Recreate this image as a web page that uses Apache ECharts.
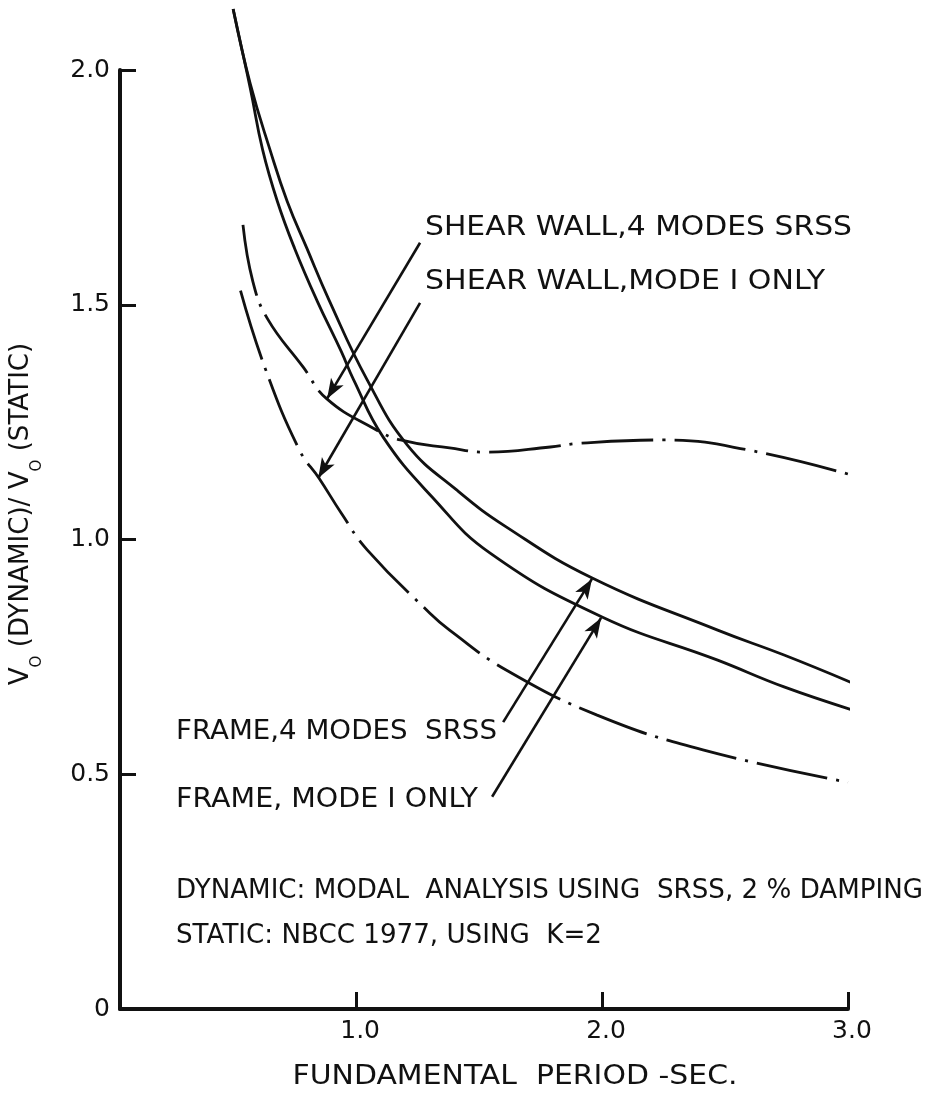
<!DOCTYPE html>
<html lang="en">
<head>
  <meta charset="UTF-8">
  <meta name="viewport" content="width=device-width, initial-scale=1.0">
  <title>Vo (dynamic) / Vo (static) vs fundamental period</title>
  <style>
    html, body {
      margin: 0;
      padding: 0;
      background: #fff;
    }
    #root {
      width: 932px;
      height: 1097px;
    }
  </style>
</head>

<body>
  <div id="root"></div>
</body>
<script src="https://cdn.jsdelivr.net/npm/echarts@6/dist/echarts.min.js"></script>
<script>
  // values: period in seconds, ratio Vo(dynamic)/Vo(static)
  const frameSrssT = [0.50, 0.57, 0.65, 0.72, 0.80, 0.89, 1.045, 1.21, 1.41, 1.61, 1.96, 2.47, 2.74, 3.02];
  const frameSrssV = [2.13, 1.97, 1.83, 1.72, 1.62, 1.51, 1.34, 1.20, 1.105, 1.027, 0.918, 0.807, 0.754, 0.694];

  const frameMode1T = [0.50, 0.57, 0.62, 0.68, 0.75, 0.84, 0.94, 0.99, 1.11, 1.31, 1.545, 2.00, 2.47, 2.74, 3.03];
  const frameMode1V = [2.13, 1.96, 1.83, 1.72, 1.62, 1.51, 1.40, 1.34, 1.218, 1.09, 0.971, 0.835, 0.743, 0.686, 0.635];

  const wallSrssT = [0.54, 0.58, 0.64, 0.785, 0.88, 1.07, 1.18, 1.38, 1.53, 1.79, 1.91, 2.25, 2.60, 3.03];
  const wallSrssV = [1.67, 1.55, 1.47, 1.367, 1.30, 1.237, 1.212, 1.195, 1.186, 1.197, 1.205, 1.212, 1.19, 1.135];

  const wallMode1T = [0.53, 0.63, 0.77, 0.85, 0.94, 1.045, 1.30, 1.38, 1.61, 1.98, 2.41, 3.00];
  const wallMode1V = [1.53, 1.365, 1.19, 1.13, 1.056, 0.978, 0.843, 0.807, 0.722, 0.626, 0.552, 0.483];

  const xTicks = [1.0, 2.0, 3.0];
  const xTickLabels = ['1.0', '2.0', '3.0'];
  const yTicks = [0, 0.5, 1.0, 1.5, 2.0];
  const yTickLabels = ['0', '0.5', '1.0', '1.5', '2.0'];

  // leader arrows, tail then head, in axis units
  const arrowTails = [[1.26, 1.632], [1.26, 1.504], [1.598, 0.611], [1.553, 0.452]];
  const arrowHeads = [[0.882, 1.30], [0.846, 1.131], [1.959, 0.916], [1.996, 0.833]];

  const FONT = 'DejaVu Sans';
  const INK = '#111';

  const zip = (a, b) => a.map((v, i) => [v, b[i]]);

  // stretch text sideways so it spans the same width as the lettering
  const measure = document.createElement('canvas').getContext('2d');
  function stretch(text, size, width) {
    measure.font = size + 'px "' + FONT + '"';
    return width / measure.measureText(text).width;
  }

  function note(text, left, cy, width) {
    return {
      type: 'text',
      x: left,
      y: cy,
      scaleX: stretch(text, 26, width),
      silent: true,
      style: {
        text: text,
        fontSize: 26,
        fontFamily: FONT,
        fill: INK,
        align: 'left',
        verticalAlign: 'middle'
      }
    };
  }

  const dashDot = [72, 9, 3, 9];

  function curve(name, t, v, dash) {
    return {
      name: name,
      type: 'line',
      data: zip(t, v),
      showSymbol: false,
      smooth: 0.45,
      clip: false,
      silent: true,
      lineStyle: { color: INK, width: 2.8, type: dash || 'solid' }
    };
  }

  let myChart = echarts.init(document.getElementById('root'))

  const yTitle = 'V O (DYNAMIC)/ V O (STATIC)';

  let option = {
    animation: false,
    backgroundColor: '#fff',
    grid: { left: 120, right: 84, top: 70, bottom: 88 },
    xAxis: {
      type: 'value',
      min: 0.04,
      max: 3,
      axisLine: { lineStyle: { color: INK, width: 4 } },
      axisTick: { inside: true, length: 17, customValues: xTicks, lineStyle: { color: INK, width: 3 } },
      axisLabel: {
        customValues: xTicks,
        margin: 10,
        padding: [0, 0, 0, 8],
        fontSize: 25,
        fontFamily: FONT,
        color: INK,
        formatter: v => xTickLabels[xTicks.indexOf(v)]
      },
      splitLine: { show: false }
    },
    yAxis: {
      type: 'value',
      min: 0,
      max: 2,
      axisLine: { lineStyle: { color: INK, width: 4 } },
      axisTick: { inside: true, length: 16, customValues: yTicks, lineStyle: { color: INK, width: 3 } },
      axisLabel: {
        customValues: yTicks,
        margin: 10,
        fontSize: 25,
        fontFamily: FONT,
        color: INK,
        formatter: v => yTickLabels[yTicks.indexOf(v)]
      },
      splitLine: { show: false }
    },
    series: [
      Object.assign(curve('Frame, 4 modes SRSS', frameSrssT, frameSrssV), {
        markLine: {
          silent: true,
          symbol: ['none', 'arrow'],
          symbolSize: [11, 20],
          label: { show: false },
          lineStyle: { color: INK, width: 2.6, type: 'solid' },
          data: arrowTails.map((a, i) => [{ coord: a }, { coord: arrowHeads[i] }])
        }
      }),
      curve('Frame, mode I only', frameMode1T, frameMode1V),
      curve('Shear wall, 4 modes SRSS', wallSrssT, wallSrssV, dashDot),
      curve('Shear wall, mode I only', wallMode1T, wallMode1V, dashDot)
    ],
    graphic: [
      note('SHEAR WALL,4 MODES SRSS', 425, 228, 427),
      note('SHEAR WALL,MODE I ONLY', 425, 282, 400),
      note('FRAME,4 MODES  SRSS', 176, 732, 321),
      note('FRAME, MODE I ONLY', 176, 800, 302),
      note('DYNAMIC: MODAL  ANALYSIS USING  SRSS, 2 % DAMPING', 176, 891, 747),
      note('STATIC: NBCC 1977, USING  K=2', 176, 936, 426),
      {
        type: 'text',
        x: 515,
        y: 1077,
        scaleX: stretch('FUNDAMENTAL  PERIOD -SEC.', 26, 445),
        silent: true,
        style: {
          text: 'FUNDAMENTAL  PERIOD -SEC.',
          fontSize: 26,
          fontFamily: FONT,
          fill: INK,
          align: 'center',
          verticalAlign: 'middle'
        }
      },
      {
        type: 'text',
        x: 21,
        y: 514,
        rotation: Math.PI / 2,
        scaleX: stretch(yTitle, 25, 362),
        silent: true,
        style: {
          text: '{m|V}{s|O}{m| (DYNAMIC)/ V}{s|O}{m| (STATIC)}',
          fill: INK,
          align: 'center',
          verticalAlign: 'middle',
          rich: {
            m: { fontSize: 26, fontFamily: FONT, lineHeight: 47, fill: INK },
            s: { fontSize: 15, fontFamily: FONT, lineHeight: 15, verticalAlign: 'bottom', fill: INK }
          }
        }
      }
    ]
  };

  myChart.setOption(option)
</script>

</html>
